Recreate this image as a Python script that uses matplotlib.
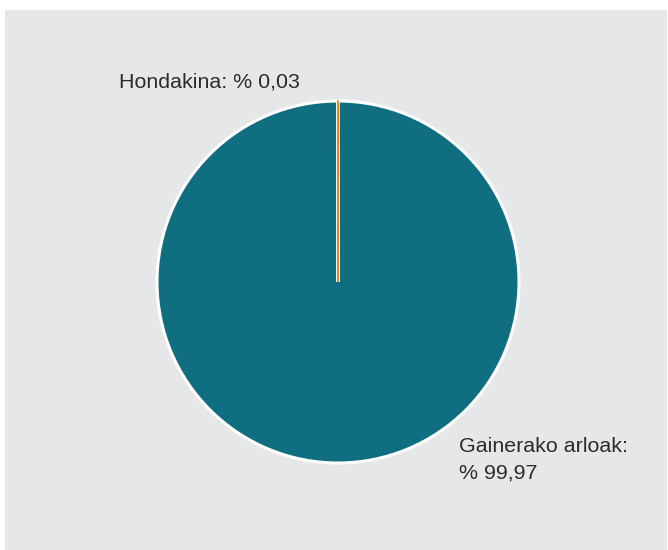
import matplotlib
matplotlib.use("Agg")
import matplotlib.pyplot as plt
from matplotlib.patches import Rectangle

# datos del gráfico
categorias = ["Hondakina", "Gainerako arloak"]
porcentajes = [0.03, 99.97]
colores = ["#e08a2c", "#0f6e80"]

fondo = "#e6e7e8"
color_texto = "#2b2b2b"

plt.rcParams['font.family'] = ['Liberation Sans', 'DejaVu Sans']

fig = plt.figure(figsize=(6.68, 5.5), dpi=100, facecolor="white")

# recuadro gris de fondo (por debajo de los ejes)
fig.patches.append(Rectangle((5 / 668, 0), 662 / 668, 540 / 550,
                             transform=fig.transFigure, facecolor=fondo,
                             edgecolor="none", zorder=-10))

ax = fig.add_axes([157 / 668, 87 / 550, 362 / 668, 362 / 550])
ax.set_facecolor("none")

wedges, _ = ax.pie(porcentajes, colors=colores, startangle=90,
                   counterclock=True, radius=1,
                   wedgeprops=dict(edgecolor="white", linewidth=2.2))

# la porción pequeña se resalta para que sea visible
wedges[0].set_edgecolor(colores[0])
wedges[0].set_linewidth(1.1)
wedges[0].set_zorder(3)

ax.set_xlim(-1, 1)
ax.set_ylim(-1, 1)
ax.set_aspect("equal")
ax.axis("off")

fs = 15.4
ax.text(-0.21, 1.072, f"{categorias[0]}: % {porcentajes[0]:.2f}".replace(".", ","),
        ha="right", va="baseline", fontsize=fs, color=color_texto)
ax.text(0.668, -0.939, f"{categorias[1]}:", ha="left", va="baseline",
        fontsize=fs, color=color_texto)
ax.text(0.668, -1.083, f"% {porcentajes[1]:.2f}".replace(".", ","),
        ha="left", va="baseline", fontsize=fs, color=color_texto)

fig.savefig("out.png", dpi=100, facecolor="white")
